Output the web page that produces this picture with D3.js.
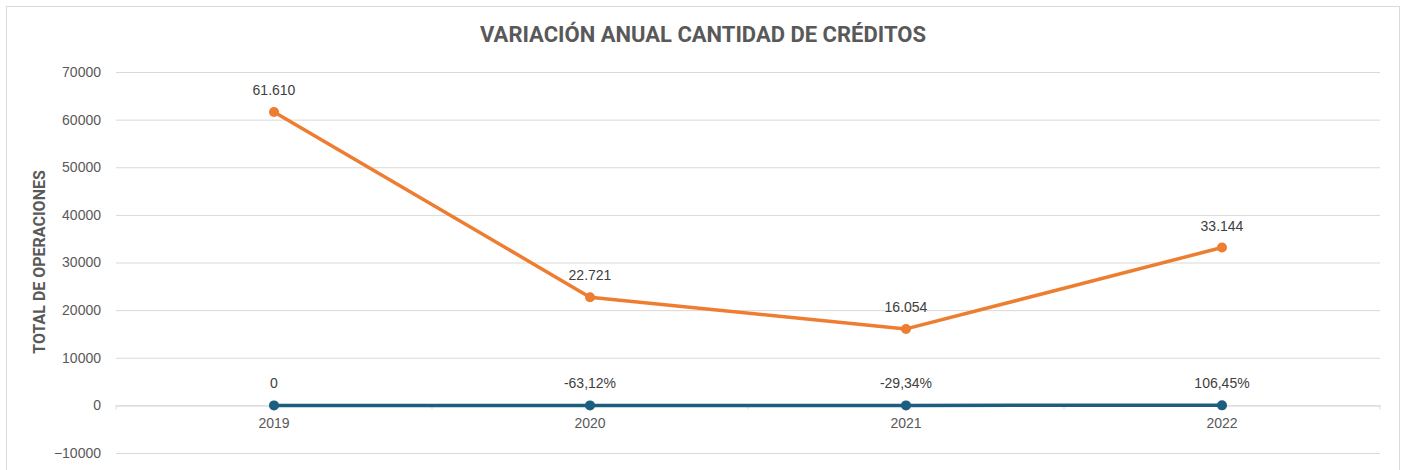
<!DOCTYPE html>
<html>
<head>
<meta charset="utf-8">
<script src="https://cdn.jsdelivr.net/npm/d3@7"></script>
<style>
  body { margin: 0; background: #fff; }
  svg { display: block; }
</style>
</head>
<body>
<svg id="chart" width="1405" height="470"></svg>
<script>
// data
const years = ["2019", "2020", "2021", "2022"];
const totals = [61610, 22721, 16054, 33144];
const totalLabels = ["61.610", "22.721", "16.054", "33.144"];
const variation = [0, -0.6312, -0.2934, 1.0645];
const variationLabels = ["0", "-63,12%", "-29,34%", "106,45%"];
const yTicks = [-10000, 0, 10000, 20000, 30000, 40000, 50000, 60000, 70000];

const plot = {left: 116, right: 1380, top: 72, bottom: 453};

const svg = d3.select("#chart");

// chart frame
svg.append("rect")
    .attr("x", 6.5).attr("y", 6.5)
    .attr("width", 1393).attr("height", 480)
    .style("fill", "#fff")
    .style("stroke", "#d9d9d9")
    .style("stroke-width", "1px");

const x = d3.scaleBand().domain(years).range([plot.left, plot.right]);
const y = d3.scaleLinear().domain([-10000, 70000]).range([plot.bottom, plot.top]);

// gridlines + y labels
const yAxis = d3.axisLeft(y).tickValues(yTicks).tickSize(-(plot.right - plot.left)).tickPadding(15).tickFormat(d3.format("d"));
svg.append("g")
    .attr("transform", "translate(" + plot.left + ",0)")
    .call(yAxis)
    .call(g => g.select(".domain").remove())
    .call(g => g.selectAll("line").style("stroke", "#d9d9d9"))
    .call(g => g.selectAll("text")
        .style("font-family", "'Liberation Sans', Arial, sans-serif")
        .style("font-size", "14px")
        .style("fill", "#595959"));

// category axis sitting on zero
const xAxis = d3.axisBottom(x).tickSize(0).tickPadding(13);
const xg = svg.append("g")
    .attr("transform", "translate(0," + y(0) + ")")
    .call(xAxis);
xg.select(".domain").style("stroke", "#d9d9d9");
xg.selectAll("text")
    .style("font-family", "'Liberation Sans', Arial, sans-serif")
    .style("font-size", "14px")
    .style("fill", "#595959");
// small ticks between categories
xg.selectAll("line.sep")
    .data(years.map(d => x(d)).concat([plot.right]))
    .enter().append("line")
    .attr("class", "sep")
    .attr("x1", d => d).attr("x2", d => d)
    .attr("y1", 0).attr("y2", 4)
    .style("stroke", "#d9d9d9");

const cx = d => x(d) + x.bandwidth() / 2;

function drawSeries(values, labels, color) {
    const pts = years.map((yr, i) => ({yr: yr, v: values[i], lab: labels[i]}));
    svg.append("path")
        .datum(pts)
        .attr("d", d3.line().x(d => cx(d.yr)).y(d => y(d.v)))
        .style("fill", "none")
        .style("stroke", color)
        .style("stroke-width", "3.5px")
        .style("stroke-linejoin", "round");
    svg.append("g").selectAll("circle")
        .data(pts).enter().append("circle")
        .attr("cx", d => cx(d.yr))
        .attr("cy", d => y(d.v))
        .attr("r", 5)
        .style("fill", color);
    svg.append("g").selectAll("text")
        .data(pts).enter().append("text")
        .attr("x", d => cx(d.yr))
        .attr("y", d => y(d.v) - 17)
        .attr("text-anchor", "middle")
        .style("font-family", "'Liberation Sans', Arial, sans-serif")
        .style("font-size", "14px")
        .style("fill", "#404040")
        .text(d => d.lab);
}

drawSeries(totals, totalLabels, "#ED7D31");
drawSeries(variation, variationLabels, "#1B5E80");

// title
svg.append("text")
    .attr("x", 703).attr("y", 42)
    .attr("text-anchor", "middle")
    .style("font-family", "'Liberation Sans Narrow', 'Roboto', sans-serif")
    .style("font-weight", "bold")
    .style("font-size", "22px")
    .style("fill", "#595959")
    .text("VARIACIÓN ANUAL CANTIDAD DE CRÉDITOS");

// y axis title
svg.append("text")
    .attr("transform", "translate(45,262)rotate(-90)")
    .attr("text-anchor", "middle")
    .style("font-family", "'Liberation Sans Narrow', 'Roboto', sans-serif")
    .style("font-weight", "bold")
    .style("font-size", "16px")
    .style("fill", "#595959")
    .text("TOTAL DE OPERACIONES");
</script>
</body>
</html>
